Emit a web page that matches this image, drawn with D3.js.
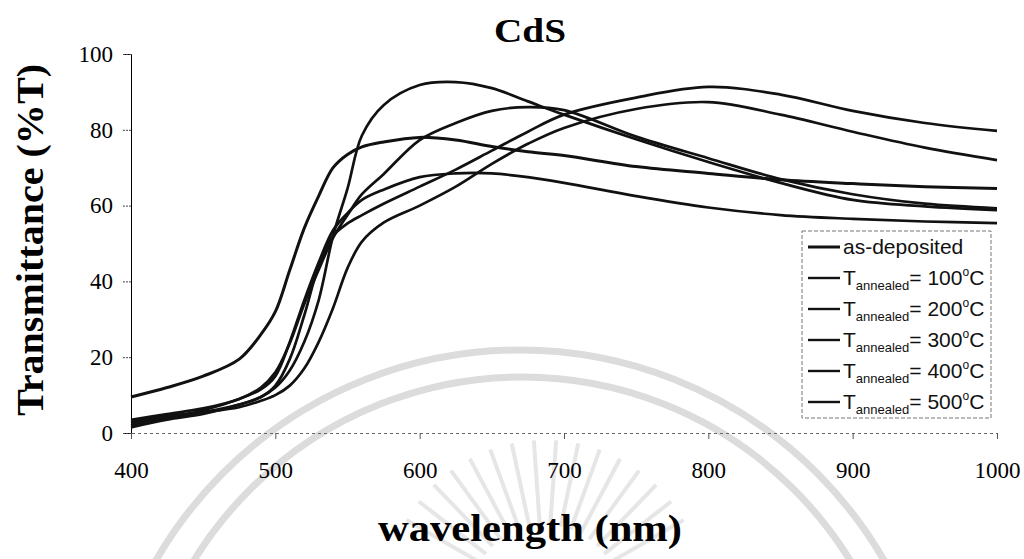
<!DOCTYPE html>
<html>
<head>
<meta charset="utf-8">
<script src="https://cdn.jsdelivr.net/npm/d3@7"></script>
<style>
  html, body { margin: 0; padding: 0; background: #fff; }
  svg { display: block; }
</style>
</head>
<body>
<svg id="chart" width="1024" height="559"></svg>
<script>
// Wavelength grid (nm) shared by every spectrum
const wavelengths = [400, 425, 450, 475, 490, 500, 510, 520, 530, 540, 550, 560, 575, 600, 625, 650, 675, 700, 750, 800, 850, 900, 950, 1000];

// Transmittance (%T) of the CdS films
const asDeposited = [9.5, 12, 15, 19.5, 26, 32, 43, 54, 62.5, 70, 73.5, 75.5, 76.8, 78, 77.3, 75.6, 74.2, 73.2, 70.3, 68.5, 66.8, 65.8, 65, 64.5];
const annealed100 = [2, 4, 6, 9, 11.5, 15, 24, 35, 45, 53.5, 58, 61.5, 64.2, 67.5, 68.5, 68.5, 67.5, 66, 62.5, 59.5, 57.5, 56.5, 55.8, 55.4];
const annealed200 = [2.5, 4, 5.5, 7.5, 9.5, 12, 16.5, 24, 35, 52, 64.5, 78.5, 86.5, 91.8, 92.6, 91, 87.5, 84, 77.5, 71.5, 66, 61.5, 59.8, 58.8];
const annealed300 = [3.5, 5, 6.5, 9, 12, 16, 23.7, 34, 43, 51.5, 57.5, 63, 68.3, 77.3, 81.8, 85, 86, 85.2, 78.2, 72.5, 67, 63, 60.5, 59.3];
const annealed400 = [3, 4.5, 5.5, 6.8, 8.5, 10, 12.5, 17, 24, 33, 43.5, 50.5, 55.5, 60, 65, 71, 76.3, 80.5, 85.5, 87.3, 84, 79.5, 75.3, 72];
const annealed500 = [1.5, 3.5, 5, 7.5, 9.5, 12.5, 19.5, 31, 44, 52, 55.3, 57.5, 60.5, 65, 69.5, 74.5, 79.5, 84, 88.5, 91.3, 89.3, 85, 81.8, 79.7];

const seriesNames = ["as-deposited", "100", "200", "300", "400", "500"];
const seriesValues = [asDeposited, annealed100, annealed200, annealed300, annealed400, annealed500];

const xTicks = [400, 500, 600, 700, 800, 900, 1000];
const yTicks = [0, 20, 40, 60, 80, 100];

const serif = "'Liberation Serif', 'Times New Roman', serif";
const sans = "'Liberation Sans', Arial, sans-serif";

const svg = d3.select("#chart");

const x = d3.scaleLinear().domain([400, 1000]).range([131, 997]);
const y = d3.scaleLinear().domain([0, 100]).range([433, 54]);

// Faint emblem in the background
const wm = svg.append("g").attr("fill", "none");
wm.append("circle").attr("cx", 520).attr("cy", 770).attr("r", 420)
  .attr("stroke", "#dcdcdc").attr("stroke-width", 7);
wm.append("circle").attr("cx", 522).attr("cy", 762).attr("r", 385)
  .attr("stroke", "#dcdcdc").attr("stroke-width", 7);
const rayAngles = d3.range(-150, -29, 8);
wm.selectAll("line.ray").data(rayAngles).join("line")
  .attr("class", "ray")
  .attr("x1", a => 545 + 75 * Math.cos(a * Math.PI / 180))
  .attr("y1", a => 600 + 75 * Math.sin(a * Math.PI / 180))
  .attr("x2", a => 545 + 160 * Math.cos(a * Math.PI / 180))
  .attr("y2", a => 600 + 160 * Math.sin(a * Math.PI / 180))
  .attr("stroke", "#e6e6e6").attr("stroke-width", 4);

// Axes
const yAxis = svg.append("g")
  .attr("transform", `translate(${x(400)},0)`)
  .call(d3.axisLeft(y).tickValues(yTicks).tickSize(8).tickPadding(10).tickFormat(d3.format("d")));
yAxis.select(".domain").attr("stroke", "#000").attr("stroke-width", 1);
yAxis.selectAll(".tick line").attr("stroke", "#444").attr("stroke-dasharray", "2,1");
yAxis.selectAll(".tick text")
  .attr("font-family", serif).attr("font-size", 23).attr("fill", "#000");

const xAxis = svg.append("g")
  .attr("transform", `translate(0,${y(0)})`)
  .call(d3.axisBottom(x).tickValues(xTicks).tickSize(6).tickPadding(23).tickFormat(d3.format("d")));
xAxis.select(".domain").attr("stroke", "#666").attr("stroke-width", 1).attr("stroke-dasharray", "3,3");
xAxis.selectAll(".tick line").attr("stroke", "#555");
xAxis.selectAll(".tick text")
  .attr("font-family", serif).attr("font-size", 23).attr("fill", "#000");

// Spectra
const line = d3.line()
  .x((d, i) => x(wavelengths[i]))
  .y(d => y(d))
  .curve(d3.curveCatmullRom.alpha(0.5));

svg.append("g").selectAll("path.spectrum").data(seriesValues).join("path")
  .attr("class", "spectrum")
  .attr("d", line)
  .attr("fill", "none")
  .attr("stroke", "#111")
  .attr("stroke-width", (d, i) => i === 0 ? 3 : 2.7)
  .attr("stroke-linejoin", "round");

// Titles
svg.append("text").attr("x", 530).attr("y", 42).attr("text-anchor", "middle")
  .attr("font-family", serif).attr("font-weight", "bold").attr("font-size", 34)
  .attr("textLength", 72).attr("lengthAdjust", "spacingAndGlyphs").text("CdS");

svg.append("text").attr("x", 530).attr("y", 541).attr("text-anchor", "middle")
  .attr("font-family", serif).attr("font-weight", "bold").attr("font-size", 38)
  .attr("textLength", 304).attr("lengthAdjust", "spacingAndGlyphs").text("wavelength (nm)");

svg.append("text").attr("transform", "translate(43,240) rotate(-90)").attr("text-anchor", "middle")
  .attr("font-family", serif).attr("font-weight", "bold").attr("font-size", 37)
  .attr("textLength", 352).attr("lengthAdjust", "spacingAndGlyphs").text("Transmittance (%T)");

// Legend
const legend = svg.append("g");
legend.append("rect").attr("x", 802).attr("y", 231).attr("width", 189).attr("height", 187)
  .attr("fill", "#fff").attr("stroke", "#777").attr("stroke-width", 1).attr("stroke-dasharray", "4,2");

const rowY = i => 247 + i * 31;
const rows = legend.selectAll("g.row").data(seriesNames).join("g")
  .attr("class", "row")
  .attr("transform", (d, i) => `translate(0,${rowY(i)})`);
rows.append("line").attr("x1", 808).attr("x2", 840).attr("y1", 0).attr("y2", 0)
  .attr("stroke", "#111").attr("stroke-width", (d, i) => i === 0 ? 3 : 2.4);
const labels = rows.append("text").attr("x", 843).attr("y", 7)
  .attr("font-family", sans).attr("font-size", 21).attr("fill", "#111");
labels.filter((d, i) => i === 0).text(d => d);
labels.filter((d, i) => i > 0).each(function(d) {
  const t = d3.select(this);
  t.append("tspan").text("T");
  t.append("tspan").attr("font-size", 13).attr("dy", 5).text("annealed");
  t.append("tspan").attr("dy", -5).text("= " + d);
  t.append("tspan").attr("font-size", 12).attr("dy", -9).text("o");
  t.append("tspan").attr("dy", 9).text("C");
});
</script>
</body>
</html>
